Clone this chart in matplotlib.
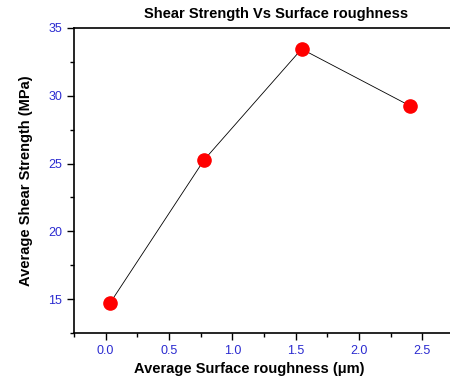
import matplotlib
matplotlib.use('Agg')
import matplotlib.pyplot as plt
from matplotlib.ticker import MultipleLocator

# values
roughness = [0.034, 0.778, 1.547, 2.40]
shear_strength = [14.7, 25.28, 33.45, 29.27]

plt.rcParams['font.family'] = ['Liberation Sans', 'DejaVu Sans']

fig = plt.figure(figsize=(4.5, 3.8), dpi=100)
# axes runs a little past the right edge, like the reference
ax = fig.add_axes([74/450, 1 - 333/380, (454 - 74)/450, (333 - 28)/380])

ax.plot(roughness, shear_strength, color='black', lw=0.6, marker='o',
        markersize=9.5, markerfacecolor='red', markeredgecolor='red', zorder=3)

ax.set_xlim(-0.25, 2.75)
ax.set_ylim(12.5, 35)
ax.xaxis.set_major_locator(MultipleLocator(0.5))
ax.xaxis.set_minor_locator(MultipleLocator(0.25))
ax.yaxis.set_major_locator(MultipleLocator(5))
ax.yaxis.set_minor_locator(MultipleLocator(2.5))
ax.set_xticks([0, 0.5, 1.0, 1.5, 2.0, 2.5])
ax.set_xticklabels(['0.0', '0.5', '1.0', '1.5', '2.0', '2.5'])

ax.tick_params(which='both', direction='out', labelcolor='#2b2bd0',
               labelsize=9, width=1)
ax.tick_params(which='major', length=5)
ax.tick_params(which='minor', length=3)
ax.tick_params(top=False, right=False)
for s in ax.spines.values():
    s.set_linewidth(1.2)

ax.set_title('Shear Strength Vs Surface roughness', fontsize=10.5,
             fontweight='bold', pad=7, x=0.533)
ax.set_xlabel('Average Surface roughness (\u03bcm)', fontsize=10.5,
              fontweight='bold', labelpad=4)
ax.xaxis.set_label_coords(0.462, -0.095)
ax.set_ylabel('Average Shear Strength (MPa)', fontsize=10.5,
              fontweight='bold', labelpad=11)

fig.savefig('out.png', dpi=100)
